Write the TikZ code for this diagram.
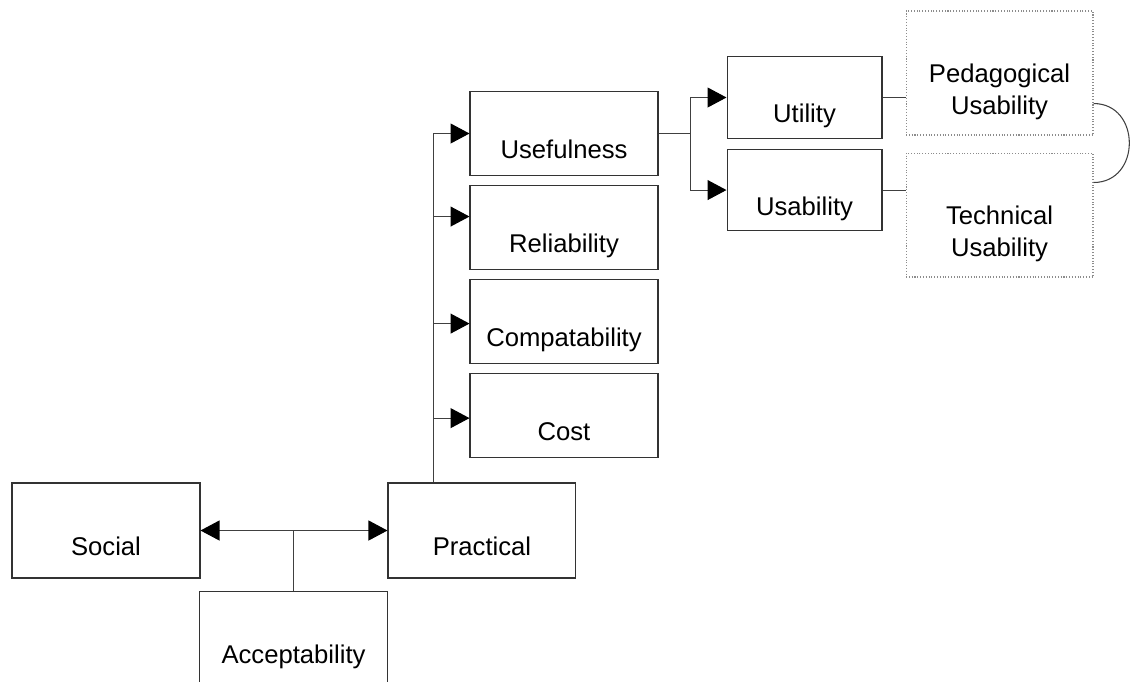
\documentclass[tikz,border=0pt]{standalone}
\usepackage{fontspec}
\setmainfont{Liberation Sans}
\usetikzlibrary{arrows.meta, positioning}

\begin{document}
\begin{tikzpicture}[x=0.02cm, y=-0.02cm]
\tikzset{block/.style={rectangle, align=center, draw=black!80, line width=0.6pt, minimum width=3.76cm, minimum height=1.9cm, inner sep=2pt, font=\fontsize{14.6pt}{18.4pt}\selectfont},
		item/.style={block, minimum height=1.67cm},
		small/.style={block, minimum width=3.1cm, minimum height=1.63cm},
		faint/.style={block, draw=black!45, densely dotted, minimum width=3.74cm, minimum height=2.48cm},
		link/.style={draw=black!75, line width=0.6pt},
		arr/.style={link, -{Triangle[length=0.38cm, width=0.4cm, black]}}}
\useasboundingbox (0,0) rectangle (1135,681);
\node[block] (Soc) at (106,530.5) {\strut\\[3pt]Social\strut};
\node[block, right=3.74cm of Soc] (Prac) {\strut\\[3pt]Practical\strut};
\node[block] (Acc) at (293.5,638.5) {\strut\\[3pt]Acceptability\strut};
\node[item] (Use) at (564,133.5) {\strut\\[3pt]Usefulness\strut};
\node[item, below=0.19cm of Use] (Rel) {\strut\\[3pt]Reliability\strut};
\node[item, below=0.19cm of Rel] (Comp) {\strut\\[3pt]Compatability\strut};
\node[item, below=0.19cm of Comp] (Cost) {\strut\\[3pt]Cost\strut};
\node[small] (Uti) at (804.5,97.5) {\strut\\[3pt]Utility\strut};
\node[small, below=0.2cm of Uti] (Usa) {\strut\\[3pt]Usability\strut};
\node[faint] (Ped) at (999.5,73) {\strut\\[3pt]Pedagogical\\Usability\strut};
\node[faint, below=0.34cm of Ped] (Tech) {\strut\\[3pt]Technical\\Usability\strut};
% acceptability splits
\coordinate (mid) at (Acc.north |- Soc.east);
\draw[link] (Acc) -- (mid);
\draw[arr] (mid) -- (Soc);
\draw[arr] (mid) -- (Prac);
% practical trunk
\coordinate (trunk) at ([xshift=0.92cm]Prac.north west);
\draw[arr] (trunk) |- (Use);
\draw[arr] (trunk) |- ([yshift=0.22cm]Rel.west);
\draw[arr] (trunk) |- ([yshift=-0.04cm]Comp.west);
\draw[arr] (trunk) |- ([yshift=-0.05cm]Cost.west);
% usefulness fork
\draw[link] (Use.east) -- ++(0.64cm,0) coordinate (fork);
\draw[arr] (fork) |- (Uti);
\draw[arr] (fork) |- (Usa);
\draw[link] (Uti) -- (Uti -| Ped.west);
\draw[link] (Usa) -- (Usa -| Tech.west);
\draw[link] ([yshift=0.64cm]Ped.south east) to[out=0, in=0, looseness=1.55] ([yshift=-0.6cm]Tech.north east);
\end{tikzpicture}
\end{document}
